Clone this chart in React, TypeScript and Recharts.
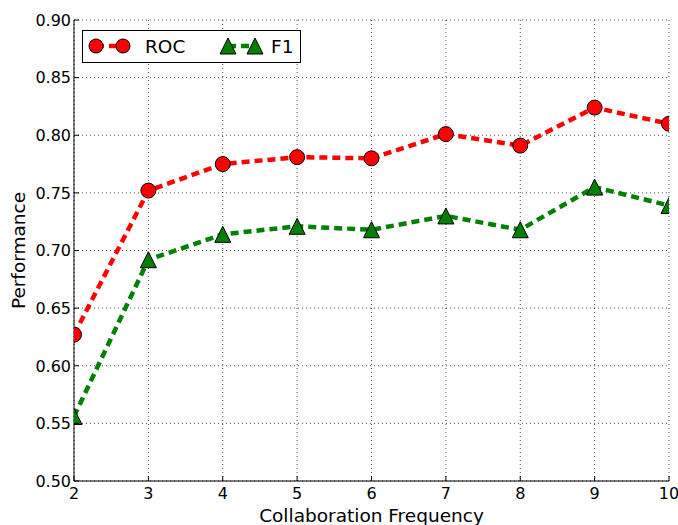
import React from "react";
import { LineChart, Line, XAxis, YAxis, CartesianGrid, Label } from "recharts";

const frequency = [2, 3, 4, 5, 6, 7, 8, 9, 10];
const roc = [0.627, 0.752, 0.775, 0.781, 0.78, 0.801, 0.791, 0.824, 0.81];
const f1 = [0.556, 0.692, 0.714, 0.721, 0.718, 0.73, 0.718, 0.755, 0.739];
const xTicks = [2, 3, 4, 5, 6, 7, 8, 9, 10];
const yTicks = [0.5, 0.55, 0.6, 0.65, 0.7, 0.75, 0.8, 0.85, 0.9];

const data = frequency.map((f, i) => ({ f, roc: roc[i], f1: f1[i] }));

const FONT = "'DejaVu Sans', sans-serif";
const RED = "#ff0000";
const GREEN = "#008000";
const TICK = 5;

const W = 678;
const H = 525;
const MARGIN = { top: 20, right: 9, left: 0, bottom: 0 };
const Y_AXIS_W = 74;
const X_AXIS_H = 44;
// axes box, used to clip the markers like matplotlib does
const BOX = {
    x: MARGIN.left + Y_AXIS_W,
    y: MARGIN.top,
    w: W - MARGIN.left - MARGIN.right - Y_AXIS_W,
    h: H - MARGIN.top - MARGIN.bottom - X_AXIS_H,
};

const Clipped = ({ id, children }: { id: string; children: React.ReactNode }) => (
    <g>
        <defs>
            <clipPath id={id}>
                <rect x={BOX.x} y={BOX.y} width={BOX.w} height={BOX.h} />
            </clipPath>
        </defs>
        <g clipPath={`url(#${id})`}>{children}</g>
    </g>
);

const Circle = ({ cx, cy, index }: any) =>
    cx == null ? null : (
        <Clipped id={`clip-roc-${index}`}>
            <circle cx={cx} cy={cy} r={7.5} fill={RED} stroke="#000" strokeWidth={1} />
        </Clipped>
    );

const Triangle = ({ cx, cy, index }: any) => {
    if (cx == null) return null;
    const s = 8;
    return (
        <Clipped id={`clip-f1-${index}`}>
            <path
                d={`M${cx},${cy - s} L${cx + s},${cy + s} L${cx - s},${cy + s} Z`}
                fill={GREEN}
                stroke="#000"
                strokeWidth={1}
            />
        </Clipped>
    );
};

const LeftTick = ({ x, y, payload }: any) => (
    <g>
        <line x1={x + 3} x2={x + 3 + TICK} y1={y} y2={y} stroke="#000" />
        <text x={x} y={y} dy="0.36em" textAnchor="end" fontSize={16} fontFamily={FONT} fill="#000">
            {payload.value.toFixed(2)}
        </text>
    </g>
);

const BottomTick = ({ x, y, payload }: any) => (
    <g>
        <line x1={x} x2={x} y1={y - 6} y2={y - 6 - TICK} stroke="#000" />
        <text x={x} y={y} dy="0.72em" textAnchor="middle" fontSize={16} fontFamily={FONT} fill="#000">
            {payload.value}
        </text>
    </g>
);

const TopTick = ({ x, y }: any) => <line x1={x} x2={x} y1={y} y2={y + TICK} stroke="#000" />;

const RightTick = ({ x, y }: any) => <line x1={x} x2={x - TICK} y1={y} y2={y} stroke="#000" />;

const LegendBox = () => (
    <svg width={220} height={34} style={{ display: "block" }}>
        <rect x={0.5} y={0.5} width={218} height={32} fill="#fff" stroke="#000" />
        <line x1={14} x2={41} y1={16} y2={16} stroke={RED} strokeWidth={4.5} strokeDasharray="8 5" />
        <circle cx={14} cy={16} r={7} fill={RED} stroke="#000" />
        <circle cx={41} cy={16} r={7} fill={RED} stroke="#000" />
        <text x={63} y={23} fontSize={18.5} fontFamily={FONT} fill="#000">ROC</text>
        <line x1={146} x2={173} y1={16} y2={16} stroke={GREEN} strokeWidth={4.5} strokeDasharray="8 5" />
        <path d="M146,8 L154,24 L138,24 Z" fill={GREEN} stroke="#000" />
        <path d="M173,8 L181,24 L165,24 Z" fill={GREEN} stroke="#000" />
        <text x={189} y={23} fontSize={18.5} fontFamily={FONT} fill="#000">F1</text>
    </svg>
);

export default function App() {
    return (
        <div style={{ position: "absolute", left: 0, top: 0, width: W, height: H, background: "#fff" }}>
            <LineChart width={W} height={H} data={data} margin={MARGIN}>
                <CartesianGrid stroke="#000" strokeDasharray="1 3" strokeOpacity={0.7} />
                <XAxis
                    dataKey="f"
                    type="number"
                    domain={[2, 10]}
                    ticks={xTicks}
                    interval={0}
                    allowDataOverflow
                    height={X_AXIS_H}
                    tickSize={0}
                    tickMargin={6}
                    tickLine={false}
                    axisLine={{ stroke: "#000" }}
                    tick={BottomTick}
                >
                    <Label
                        value="Collaboration Frequency"
                        position="insideBottom"
                        offset={3}
                        style={{ fontSize: 18.5, fontFamily: FONT, fill: "#000" }}
                    />
                </XAxis>
                <XAxis
                    xAxisId="top"
                    orientation="top"
                    type="number"
                    domain={[2, 10]}
                    ticks={xTicks}
                    interval={0}
                    height={0}
                    tickSize={0}
                    tickMargin={0}
                    tickLine={false}
                    axisLine={{ stroke: "#000" }}
                    tick={TopTick}
                />
                <YAxis
                    type="number"
                    domain={[0.5, 0.9]}
                    ticks={yTicks}
                    interval={0}
                    allowDataOverflow
                    width={Y_AXIS_W}
                    tickSize={0}
                    tickMargin={3}
                    tickLine={false}
                    axisLine={{ stroke: "#000" }}
                    tick={LeftTick}
                >
                    <Label
                        value="Performance"
                        angle={-90}
                        position="insideLeft"
                        offset={18}
                        style={{ fontSize: 18.5, fontFamily: FONT, fill: "#000", textAnchor: "middle" }}
                    />
                </YAxis>
                <YAxis
                    yAxisId="right"
                    orientation="right"
                    type="number"
                    domain={[0.5, 0.9]}
                    ticks={yTicks}
                    interval={0}
                    width={0}
                    tickSize={0}
                    tickMargin={0}
                    tickLine={false}
                    axisLine={{ stroke: "#000" }}
                    tick={RightTick}
                />
                <Line
                    type="linear"
                    dataKey="roc"
                    stroke={RED}
                    strokeWidth={4.5}
                    strokeDasharray="8 5"
                    dot={<Circle />}
                    activeDot={false}
                    isAnimationActive={false}
                />
                <Line
                    type="linear"
                    dataKey="f1"
                    stroke={GREEN}
                    strokeWidth={4.5}
                    strokeDasharray="8 5"
                    dot={<Triangle />}
                    activeDot={false}
                    isAnimationActive={false}
                />
            </LineChart>
            <div style={{ position: "absolute", left: 82, top: 30 }}>
                <LegendBox />
            </div>
        </div>
    );
}
